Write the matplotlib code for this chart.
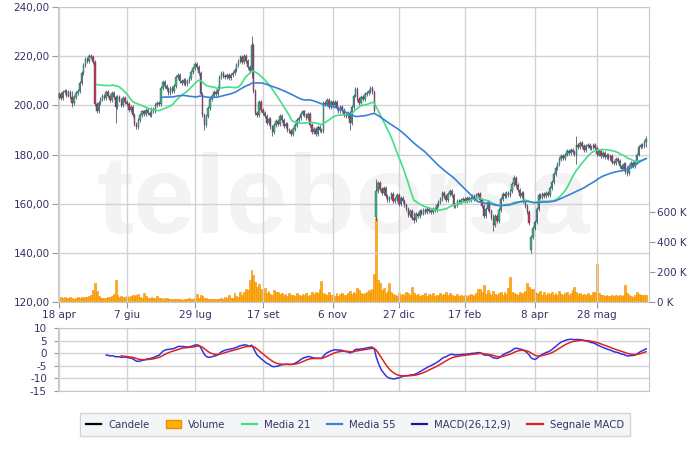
import numpy as np
import pandas as pd
import matplotlib
matplotlib.use('Agg')
import matplotlib.pyplot as plt
from matplotlib.lines import Line2D
from matplotlib.patches import Patch
from matplotlib.ticker import FuncFormatter

plt.rcParams['axes.unicode_minus'] = False

# etichette asse dei tempi (indice della seduta)
tick_idx = [0, 36, 72, 108, 145, 180, 215, 252, 285]
tick_labels = ['18 apr', '7 giu', '29 lug', '17 set', '6 nov', '27 dic', '17 feb', '8 apr', '28 mag']

# prezzi di chiusura
closes = [
    204.5, 203.0, 205.5, 206.0, 204.0, 205.5, 203.5, 201.0, 203.5, 205.0,
    206.0, 209.0, 213.0, 216.5, 219.0, 218.0, 220.0, 219.5, 217.5, 200.5,
    197.5, 201.0, 202.5, 204.0, 203.0, 205.5, 204.0, 202.0, 205.0, 203.5,
    199.5, 203.5, 202.0, 200.0, 203.0, 201.5, 200.5, 198.0, 199.5, 196.0,
    192.5, 191.0, 194.0, 196.0, 197.5, 196.5, 198.0, 197.0, 196.0, 198.5,
    197.5, 200.0, 201.0, 200.5, 207.0, 209.5, 208.0, 206.5, 205.0, 207.0,
    206.0, 208.0, 211.5, 212.5, 210.0, 209.0, 210.5, 208.5, 210.0, 211.0,
    213.5, 215.0, 217.0, 215.5, 213.0, 204.5, 196.0, 192.0, 195.5, 199.0,
    202.5, 204.0, 205.5, 204.5, 207.0, 211.5, 213.0, 212.0, 211.5, 212.5,
    211.0, 212.5, 213.0, 214.5, 216.5, 218.0, 219.5, 217.5, 220.0, 218.0,
    215.5, 214.0, 224.5, 206.0, 197.0, 196.0, 201.5, 198.0, 197.0, 195.5,
    193.0, 194.5, 191.0, 189.0, 192.0, 193.5, 192.5, 195.5, 194.0, 191.5,
    192.5, 190.0, 189.5, 188.5, 190.5, 192.0, 194.0, 195.0, 196.5, 197.5,
    196.0, 195.0, 196.5, 192.0, 189.0, 190.5, 188.5, 191.0, 190.0, 189.5,
    201.0, 200.5, 202.0, 199.5, 201.5, 200.0, 201.5, 199.0, 197.5, 199.5,
    198.0, 196.0, 195.5, 197.0, 193.0, 199.5, 204.0, 206.5, 202.5, 201.0,
    203.5, 202.5, 204.5, 205.0, 206.0, 207.0, 205.5, 197.5, 165.0, 168.5,
    166.0, 164.5, 166.5, 163.0, 161.5, 162.5, 164.0, 161.0, 162.0, 163.5,
    160.0, 162.5, 161.0, 159.5, 158.0, 155.5, 157.0, 154.0, 153.5, 156.0,
    155.0, 157.0, 156.0, 157.5, 156.5, 158.0, 157.0, 156.5, 158.0, 157.5,
    159.5, 160.5, 162.0, 164.5, 163.0, 161.5, 164.0, 165.0, 163.5, 159.0,
    159.5, 161.0, 160.5, 161.5, 162.0, 161.0, 162.5, 161.5, 162.5, 163.0,
    162.0, 163.5, 164.0, 161.5, 159.0, 155.0, 158.0, 160.5, 157.0, 154.0,
    151.5, 155.0, 153.0, 157.5, 162.0, 164.0, 163.0, 164.5, 163.5, 165.0,
    168.0, 170.5, 167.5, 165.5, 163.0, 164.5, 161.0, 159.0, 156.5, 152.0,
    146.5, 150.0, 152.5, 158.0, 163.5, 162.5, 164.0, 163.0, 164.5, 163.5,
    166.5, 169.0, 172.0, 174.5, 176.0, 178.0, 179.5, 178.5, 180.0, 181.5,
    180.5, 182.0, 181.0, 180.0, 184.0, 183.0, 184.5, 183.5, 182.0, 183.5,
    184.0, 182.5, 183.0, 184.0, 182.5, 180.0, 181.5, 179.5, 180.5, 179.0,
    180.0, 178.5, 179.5, 177.0, 176.5, 178.0, 177.5, 175.5, 174.0, 176.0,
    173.0, 172.5, 175.5, 176.5, 175.5, 177.0, 180.0, 183.0, 184.0, 183.5,
    185.0, 186.5,
]

# volumi in migliaia
volumes = [
    30, 35, 28, 32, 30, 26, 33, 28, 22, 30,
    34, 30, 32, 30, 31, 35, 40, 48, 78, 125,
    72, 40, 30, 28, 26, 30, 32, 35, 40, 55,
    148, 45, 35, 38, 32, 34, 40, 36, 42, 50,
    38, 45, 55, 35, 30, 62, 40, 28, 30, 36,
    25, 30, 38, 28, 24, 22, 26, 25, 20, 22,
    18, 20, 22, 18, 20, 16, 22, 18, 20, 24,
    22, 18, 25, 55, 30, 48, 38, 25, 30, 22,
    20, 22, 18, 20, 22, 18, 24, 20, 35, 28,
    45, 30, 25, 60, 40, 35, 65, 48, 70, 90,
    80, 150, 215, 180, 135, 100, 120, 85, 70, 95,
    60, 75, 55, 50, 82, 70, 65, 55, 60, 48,
    55, 40, 62, 45, 50, 40, 58, 45, 38, 55,
    45, 60, 42, 50, 68, 55, 70, 62, 90, 140,
    60, 55, 48, 70, 45, 50, 42, 58, 40, 55,
    62, 50, 45, 60, 75, 55, 70, 62, 95, 80,
    60, 55, 62, 70, 80, 68, 90, 190, 560, 150,
    127, 80, 95, 60, 72, 130, 65, 55, 45, 40,
    60, 48, 55, 42, 70, 58, 50, 100, 62, 48,
    55, 42, 50, 45, 60, 40, 52, 45, 58, 42,
    50, 40, 62, 48, 55, 70, 45, 60, 50, 42,
    40, 52, 38, 45, 42, 50, 38, 45, 55, 40,
    48, 60, 85, 90, 70, 115, 55, 80, 60, 50,
    75, 55, 45, 60, 70, 50, 65, 55, 95, 167,
    70, 60, 55, 50, 65, 55, 60, 75, 127, 100,
    90, 85, 70, 60, 55, 75, 50, 65, 45, 60,
    55, 70, 48, 62, 50, 75, 55, 45, 60, 68,
    50, 62, 80, 100, 70, 55, 60, 48, 52, 45,
    60, 50, 45, 65, 70, 253, 60, 45, 50, 40,
    45, 38, 42, 50, 40, 45, 38, 48, 42, 50,
    113, 60, 45, 40, 35, 50, 70, 55, 48, 45,
    50, 45,
]

# aperture in gap (le altre = chiusura precedente)
gap_idx = [168, 250]
gap_open = [154.5, 141.0]

# ombre lunghe visibili nel grafico
spike_idx = [7, 30, 77, 102, 113, 154, 168, 188, 230, 241, 250, 274, 301, 311]
spike_high = [206.0, 204.0, 196.0, 228.3, 192.0, 197.0, 170.0, 156.5, 156.0, 171.5, 147.0, 187.7, 175.5, 187.4]
spike_low = [199.5, 193.0, 190.0, 211.0, 187.5, 190.0, 153.0, 152.0, 149.0, 167.0, 140.0, 176.0, 171.4, 183.0]

c = np.array(closes, dtype=float)
o = np.r_[203.5, c[:-1]]
for i, v in zip(gap_idx, gap_open):
    o[i] = v
hi = np.maximum(o, c) + 0.8
lo = np.minimum(o, c) - 0.8
for i, h, l in zip(spike_idx, spike_high, spike_low):
    hi[i] = max(hi[i], h)
    lo[i] = min(lo[i], l)
x = np.arange(len(c))

s = pd.Series(c)
ma21 = s.rolling(21).mean()
ma55 = s.rolling(55).mean()
macd = s.ewm(span=12, adjust=False).mean() - s.ewm(span=26, adjust=False).mean()
signal = macd.ewm(span=9, adjust=False).mean()
macd[:25] = np.nan
signal[:33] = np.nan

txt_col = '#333366'
grid_col = '#d2d2d2'

fig = plt.figure(figsize=(7, 4.51), dpi=100)
fig.patch.set_facecolor('white')

rect = [58 / 700, 1 - 302 / 451, 591 / 700, 295 / 451]
ax = fig.add_axes(rect)
ax_v = ax.twinx()
ax.set_zorder(ax_v.get_zorder() + 1)
ax.patch.set_visible(False)

# watermark
ax_v.text(0.066, 0.235, 'teleborsa', transform=ax.transAxes, fontsize=80,
          fontweight='bold', family='Liberation Sans', color='#f3f3f3',
          ha='left', va='baseline', zorder=0.5)

# volumi
ax_v.bar(x, volumes, width=1.0, color='#ffad14', edgecolor='#f08c00', linewidth=0.4, zorder=2)
ax_v.set_ylim(0, 1967)
ax_v.set_yticks([0, 200, 400, 600])
ax_v.set_yticklabels(['0 K', '200 K', '400 K', '600 K'])
ax_v.tick_params(axis='y', colors='#999999', labelcolor=txt_col, labelsize=7.5, length=4, pad=2)
for sp in ax_v.spines.values():
    sp.set_visible(False)

# candele
up = c >= o
ax.vlines(x, lo, hi, color='#3a4a6a', linewidth=0.55, zorder=3)
ax.bar(x[up], (c - o)[up], bottom=o[up], width=0.75, color='#33c070',
       edgecolor='#3a4a6a', linewidth=0.3, zorder=4)
ax.bar(x[~up], (c - o)[~up], bottom=o[~up], width=0.75, color='#cc3350',
       edgecolor='#3a4a6a', linewidth=0.3, zorder=4)

ax.plot(x, ma21, color='#44dd88', linewidth=1.2, zorder=5)
ax.plot(x, ma55, color='#3a80d8', linewidth=1.2, zorder=5)

ax.set_xlim(-0.5, 312.5)
ax.set_ylim(120, 240)
ax.set_yticks(np.arange(120, 241, 20))
ax.yaxis.set_major_formatter(FuncFormatter(lambda v, p: f'{v:.2f}'.replace('.', ',')))
ax.set_xticks(tick_idx)
ax.set_xticklabels(tick_labels)
ax.tick_params(axis='both', colors='#999999', labelcolor=txt_col, labelsize=7.5, length=4, pad=2)
ax.grid(True, color=grid_col, linewidth=1)
ax.set_axisbelow(True)
for sp in ax.spines.values():
    sp.set_color('#c8c8c8')

# pannello MACD
mac = fig.add_axes([58 / 700, 1 - 391 / 451, 591 / 700, 63 / 451], sharex=ax)
mac.plot(x, macd, color='#3333dd', linewidth=1.1, zorder=3)
mac.plot(x, signal, color='#dd2222', linewidth=1.1, zorder=3)
mac.set_ylim(-15, 10)
mac.set_yticks([10, 5, 0, -5, -10, -15])
mac.grid(True, color=grid_col, linewidth=1)
mac.set_axisbelow(True)
mac.tick_params(axis='y', colors='#999999', labelcolor=txt_col, labelsize=7.5, length=3, pad=5)
mac.tick_params(axis='x', length=0, labelbottom=False)
for sp in mac.spines.values():
    sp.set_color('#c8c8c8')

# legenda
handles = [
    Line2D([], [], color='black', linewidth=1.6),
    Patch(facecolor='#ffb000', edgecolor='#f08c00'),
    Line2D([], [], color='#44dd88', linewidth=1.6),
    Line2D([], [], color='#3a80d8', linewidth=1.6),
    Line2D([], [], color='#1a1aa0', linewidth=1.6),
    Line2D([], [], color='#dd2222', linewidth=1.6),
]
labels = ['Candele', 'Volume', 'Media 21', 'Media 55', 'MACD(26,12,9)', 'Segnale MACD']
leg = fig.legend(handles, labels, loc='center', bbox_to_anchor=(355 / 700, 1 - 424.5 / 451),
                 ncol=6, fontsize=7.3, frameon=True, fancybox=False, handlelength=1.5,
                 handletextpad=0.7, columnspacing=1.6, borderpad=0.6)
leg.get_frame().set_facecolor('#f1f3f5')
leg.get_frame().set_edgecolor('#c8ccd4')
for t in leg.get_texts():
    t.set_color(txt_col)

fig.savefig('out.png', dpi=100, facecolor='white')
